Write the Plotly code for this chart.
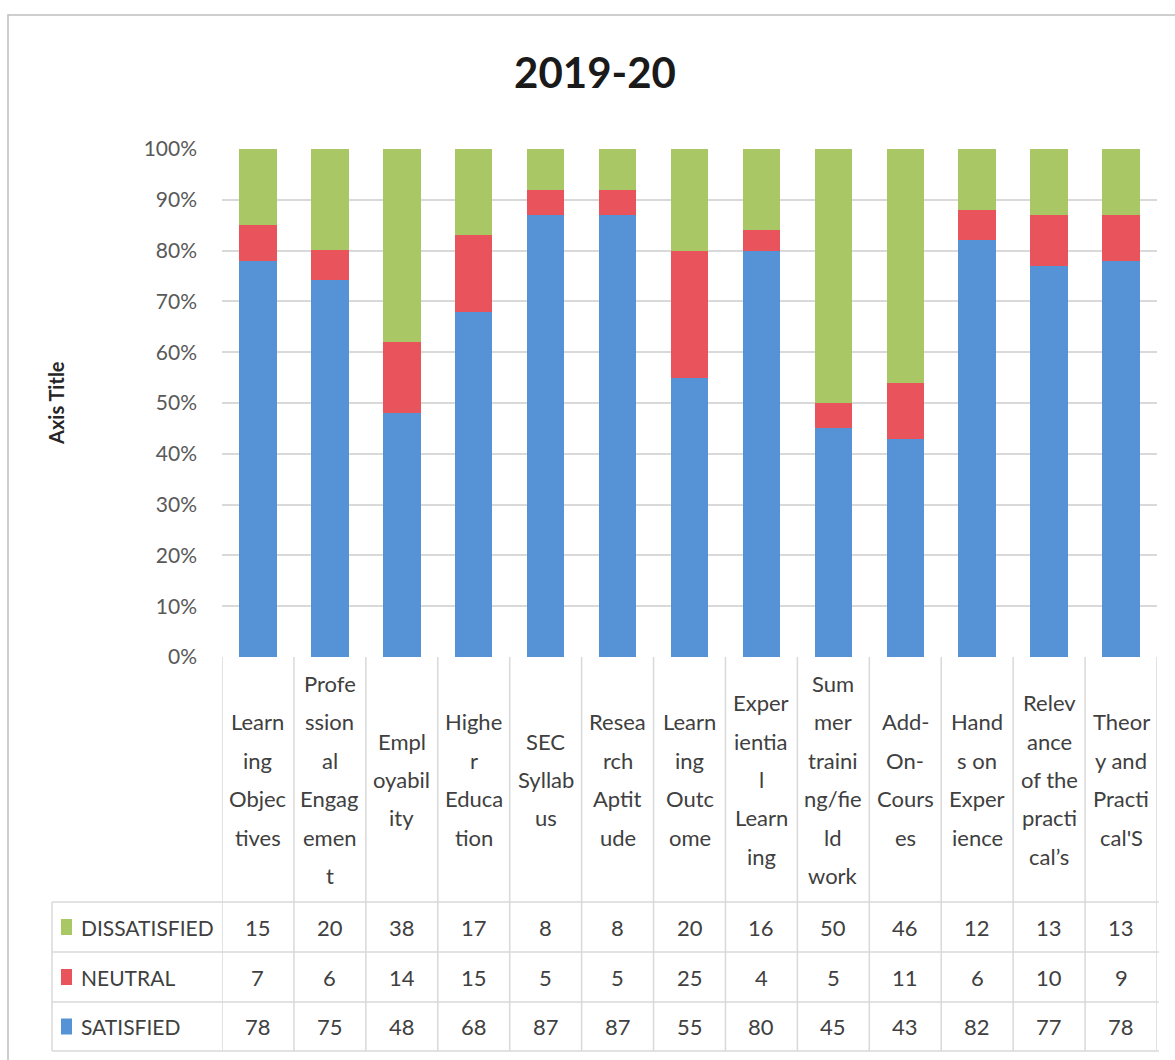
import plotly.graph_objects as go

# ---------------- data ----------------
categories = [
    "Learning Objectives", "Professional Engagement", "Employability",
    "Higher Education", "SEC Syllabus", "Research Aptitude",
    "Learning Outcome", "Experiential Learning", "Summer training/field work",
    "Add-On-Courses", "Hands on Experience", "Relevance of the practical's",
    "Theory and Practical'S",
]
category_lines = [
    ["Learn", "ing", "Objec", "tives"],
    ["Profe", "ssion", "al", "Engag", "emen", "t"],
    ["Empl", "oyabil", "ity"],
    ["Highe", "r", "Educa", "tion"],
    ["SEC", "Syllab", "us"],
    ["Resea", "rch", "Aptit", "ude"],
    ["Learn", "ing", "Outc", "ome"],
    ["Exper", "ientia", "l", "Learn", "ing"],
    ["Sum", "mer", "traini", "ng/fie", "ld", "work"],
    ["Add-", "On-", "Cours", "es"],
    ["Hand", "s on", "Exper", "ience"],
    ["Relev", "ance", "of the", "practi", "cal\u2019s"],
    ["Theor", "y and", "Practi", "cal'S"],
]
satisfied = [78, 75, 48, 68, 87, 87, 55, 80, 45, 43, 82, 77, 78]
neutral = [7, 6, 14, 15, 5, 5, 25, 4, 5, 11, 6, 10, 9]
dissatisfied = [15, 20, 38, 17, 8, 8, 20, 16, 50, 46, 12, 13, 13]

series_names = ["SATISFIED", "NEUTRAL", "DISSATISFIED"]
series_values = [satisfied, neutral, dissatisfied]
series_colors = ["#5592D6", "#E9535B", "#A9C764"]

title_text = "2019-20"
y_tick_vals = [0, 10, 20, 30, 40, 50, 60, 70, 80, 90, 100]
y_tick_text = ["0%", "10%", "20%", "30%", "40%", "50%", "60%", "70%", "80%", "90%", "100%"]
y_axis_title = "Axis Title"

# ---------------- layout geometry (pixels) ----------------
W, H = 1175, 1060
PL, PR, PT, PB = 222, 1157, 149, 657
FONT = "Lato"
GRID = "#D9D9D9"
TXT = "#404040"


def px_x(px):
    return (px - PL) / (PR - PL)


def px_y(py):
    return (PB - py) / (PB - PT)


fig = go.Figure()
for name, vals, col in zip(series_names, series_values, series_colors):
    fig.add_trace(go.Bar(
        x=list(range(len(categories))), y=vals, name=name,
        marker=dict(color=col, line=dict(width=0)),
        hovertext=categories, showlegend=False,
    ))

annotations = []
shapes = []

# header labels, vertically centred in header cell
header_top, header_bot = PB, 902
header_mid = (header_top + header_bot) / 2
line_pitch = 38.5
for i, lines in enumerate(category_lines):
    n = len(lines)
    for k, ln in enumerate(lines):
        cy = header_mid + (k - (n - 1) / 2) * line_pitch
        annotations.append(dict(
            x=i, xref="x", y=px_y(cy), yref="paper", text=ln,
            showarrow=False, xanchor="center", yanchor="middle",
            font=dict(family=FONT, size=22, color=TXT),
        ))

# data table rows (top to bottom: dissatisfied, neutral, satisfied)
row_lines_px = [902, 952, 1002, 1051]
table_rows = list(zip(series_names, series_values, series_colors))[::-1]
for r, (name, vals, col) in enumerate(table_rows):
    cy = (row_lines_px[r] + row_lines_px[r + 1]) / 2
    for i, v in enumerate(vals):
        annotations.append(dict(
            x=i, xref="x", y=px_y(cy), yref="paper", text=str(v),
            showarrow=False, xanchor="center", yanchor="middle",
            font=dict(family=FONT, size=22, color=TXT),
        ))
    annotations.append(dict(
        x=px_x(79), xref="paper", y=px_y(cy), yref="paper", text=name,
        showarrow=False, xanchor="left", yanchor="middle",
        font=dict(family=FONT, size=21, color=TXT),
    ))
    shapes.append(dict(
        type="rect", xref="paper", yref="paper",
        x0=px_x(61), x1=px_x(72), y0=px_y(cy - 8), y1=px_y(cy + 8),
        fillcolor=col, line=dict(width=0),
    ))

# table grid lines
for ly in row_lines_px:
    shapes.append(dict(
        type="line", xref="paper", yref="paper",
        x0=px_x(52), x1=1.002, y0=px_y(ly), y1=px_y(ly),
        line=dict(color=GRID, width=1.5),
    ))
for i in range(len(categories) + 1):
    shapes.append(dict(
        type="line", xref="x", yref="paper",
        x0=i - 0.5, x1=i - 0.5, y0=0, y1=px_y(row_lines_px[-1]),
        line=dict(color=GRID, width=1.5),
    ))
shapes.append(dict(
    type="line", xref="paper", yref="paper",
    x0=px_x(52), x1=px_x(52), y0=px_y(row_lines_px[0]), y1=px_y(row_lines_px[-1]),
    line=dict(color=GRID, width=1.5),
))

# outer chart frame
shapes.append(dict(
    type="rect", xref="paper", yref="paper",
    x0=px_x(8), x1=px_x(1190), y0=px_y(15), y1=px_y(1080),
    line=dict(color="#BFBFBF", width=1.5), fillcolor="rgba(0,0,0,0)",
    layer="below",
))

# axis title
annotations.append(dict(
    x=px_x(56), xref="paper", y=0.5, yref="paper", text="<b>" + y_axis_title + "</b>",
    textangle=-90, showarrow=False, xanchor="center", yanchor="middle",
    font=dict(family=FONT, size=20, color="#262626"),
))

fig.update_layout(
    width=W, height=H,
    margin=dict(l=PL, r=W - PR, t=PT, b=H - PB, autoexpand=False),
    paper_bgcolor="white", plot_bgcolor="white",
    barmode="stack", barnorm="percent", bargap=0.48,
    title=dict(
        text="<b>" + title_text + "</b>", x=595 / W, xref="container", xanchor="center",
        y=1 - 73 / H, yref="container", yanchor="middle",
        font=dict(family=FONT, size=42, color="#1a1a1a"),
    ),
    xaxis=dict(
        type="linear", range=[-0.5, len(categories) - 0.5],
        showticklabels=False, showgrid=False, zeroline=False, ticks="",
        showline=False, fixedrange=True,
    ),
    yaxis=dict(
        range=[0, 100], tickmode="array", tickvals=y_tick_vals, ticktext=y_tick_text,
        showgrid=True, gridcolor=GRID, gridwidth=1.5, zeroline=False,
        showline=False, ticks="", ticklabelstandoff=24,
        tickfont=dict(family=FONT, size=21, color="#595959"),
    ),
    annotations=annotations,
    shapes=shapes,
    showlegend=False,
    hovermode="closest",
)

fig.write_html(
    "out.html",
    config={"displayModeBar": False},
    post_script="document.body.style.margin='0';document.body.style.overflow='hidden';",
)
